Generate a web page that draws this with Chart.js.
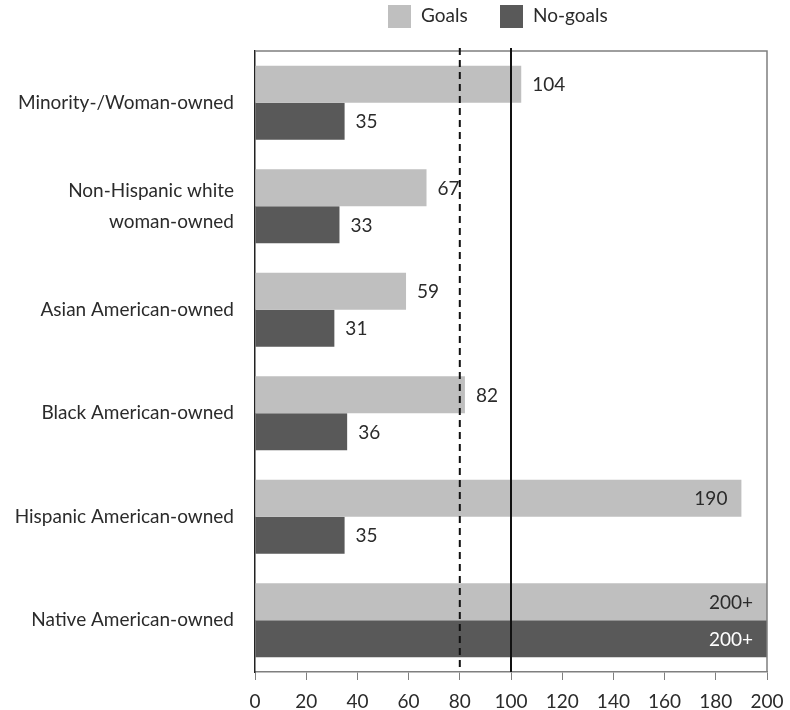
<!DOCTYPE html>
<html>
<head>
<meta charset="utf-8">
<script src="https://cdn.jsdelivr.net/npm/chart.js@4"></script>
<style>
  html, body { margin: 0; padding: 0; background: #fff; }
  #wrap { width: 790px; height: 710px; }
</style>
</head>
<body>
<div id="wrap"><canvas id="chart" width="790" height="710"></canvas></div>
<script>
const categories = [
  "Minority-/Woman-owned",
  ["Non-Hispanic white", "woman-owned"],
  "Asian American-owned",
  "Black American-owned",
  "Hispanic American-owned",
  "Native American-owned",
];
const goalsValues = [104, 67, 59, 82, 190, 200];
const noGoalsValues = [35, 33, 31, 36, 35, 200];
const goalsLabels = ["104", "67", "59", "82", "190", "200+"];
const noGoalsLabels = ["35", "33", "31", "36", "35", "200+"];
const xTicks = [0, 20, 40, 60, 80, 100, 120, 140, 160, 180, 200];
const dashedLineValue = 80;
const solidLineValue = 100;

const FONT = "Lato, 'Open Sans', sans-serif";
const FONT_SIZE = 19;
const TEXT = "#2b2b2b";
const LIGHT = "#bfbfbf";
const DARK = "#595959";

// labels, ref lines, top/right frame and the legend
const extras = {
  id: "extras",
  afterDatasetsDraw(chart) {
    const ctx = chart.ctx;
    const area = chart.chartArea;
    const x = chart.scales.x;

    ctx.save();
    ctx.strokeStyle = "#7f7f7f";
    ctx.lineWidth = 1.5;
    ctx.beginPath();
    ctx.moveTo(area.left, area.top);
    ctx.lineTo(area.right, area.top);
    ctx.lineTo(area.right, area.bottom);
    ctx.stroke();

    ctx.strokeStyle = "#111";
    ctx.lineWidth = 2;
    ctx.setLineDash([7, 5]);
    const xd = x.getPixelForValue(dashedLineValue);
    ctx.beginPath();
    ctx.moveTo(xd, area.top - 3);
    ctx.lineTo(xd, area.bottom);
    ctx.stroke();
    ctx.setLineDash([]);
    const xs = x.getPixelForValue(solidLineValue);
    ctx.beginPath();
    ctx.moveTo(xs, area.top - 3);
    ctx.lineTo(xs, area.bottom);
    ctx.stroke();

    ctx.font = FONT_SIZE + "px " + FONT;
    ctx.textBaseline = "middle";
    const allLabels = [goalsLabels, noGoalsLabels];
    chart.data.datasets.forEach((ds, i) => {
      chart.getDatasetMeta(i).data.forEach((bar, j) => {
        const txt = allLabels[i][j];
        const w = ctx.measureText(txt).width;
        if (bar.x + 12 + w > area.right) {
          ctx.textAlign = "right";
          ctx.fillStyle = i === 1 ? "#ffffff" : TEXT;
          ctx.fillText(txt, bar.x - 14, bar.y + 1);
        } else {
          ctx.textAlign = "left";
          ctx.fillStyle = TEXT;
          ctx.fillText(txt, bar.x + 11, bar.y + 1);
        }
      });
    });

    // legend
    const items = [
      { text: "Goals", color: LIGHT, x: 388 },
      { text: "No-goals", color: DARK, x: 500 },
    ];
    ctx.textAlign = "left";
    items.forEach((it) => {
      ctx.fillStyle = it.color;
      ctx.fillRect(it.x, 5, 23, 23);
      ctx.fillStyle = TEXT;
      ctx.fillText(it.text, it.x + 33, 16);
    });
    ctx.restore();
  },
};

new Chart(document.getElementById("chart"), {
  type: "bar",
  data: {
    labels: categories,
    datasets: [
      { label: "Goals", data: goalsValues, backgroundColor: LIGHT },
      { label: "No-goals", data: noGoalsValues, backgroundColor: DARK },
    ],
  },
  options: {
    indexAxis: "y",
    responsive: false,
    animation: false,
    layout: { padding: { top: 51, right: 23, bottom: 0, left: 0 } },
    datasets: { bar: { categoryPercentage: 0.715, barPercentage: 1.0 } },
    plugins: {
      legend: { display: false },
      tooltip: { enabled: false },
    },
    scales: {
      x: {
        min: 0,
        max: 200,
        afterBuildTicks: (s) => { s.ticks = xTicks.map((v) => ({ value: v })); },
        afterFit: (s) => { s.height = 38; s.paddingLeft = 0; s.paddingRight = 0; },
        grid: { drawOnChartArea: false, drawTicks: true, tickLength: 8, color: "#7f7f7f" },
        border: { color: "#7f7f7f", width: 1.5 },
        ticks: { color: TEXT, font: { family: FONT, size: FONT_SIZE }, padding: 10, maxRotation: 0 },
      },
      y: {
        afterFit: (s) => { s.width = 255; },
        grid: { display: false, drawTicks: false },
        border: { color: "#222", width: 1.5 },
        ticks: { color: TEXT, font: { family: FONT, size: FONT_SIZE, lineHeight: 1.65 }, padding: 21 },
      },
    },
  },
  plugins: [extras],
});
</script>
</body>
</html>
